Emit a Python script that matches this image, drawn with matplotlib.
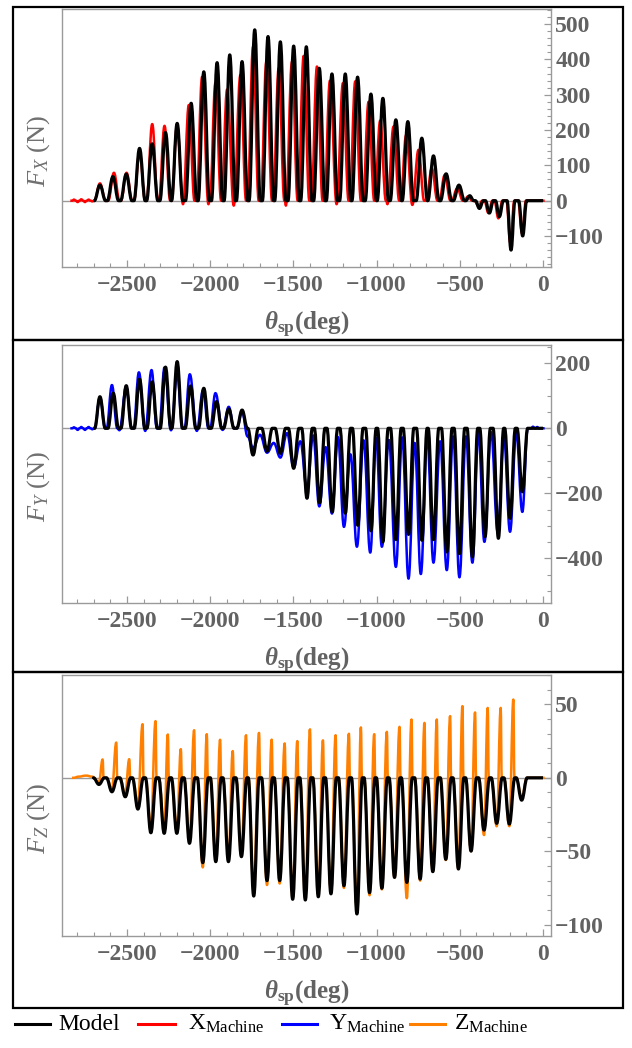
import numpy as np
import matplotlib
matplotlib.use("Agg")
import matplotlib.pyplot as plt
from matplotlib.ticker import MultipleLocator
from matplotlib.patches import Rectangle, PathPatch
from matplotlib.lines import Line2D
from matplotlib.path import Path

# ---------------- data ----------------
# Panel F_X : model peaks / machine peaks (deg, N)
fx_model_deg = [-2662, -2584, -2504, -2424, -2348, -2268, -2198, -2114, -2038, -1958,
                -1882, -1808, -1732, -1652, -1578, -1498, -1422, -1344, -1268, -1188,
                -1114, -1034, -962, -884, -812, -728, -658, -582, -505]
fx_model_val = [44, 68, 75, 148, 161, 193, 219, 276, 365, 391,
                413, 394, 484, 465, 450, 438, 436, 375, 359, 359,
                350, 302, 290, 229, 224, 177, 127, 76, 44]
fx_model_tail_deg = [-440, -382, -322, -262, -192, -122]
fx_model_tail_val = [14, -22, -35, -45, -140, -100]
fx_mach_deg = [-2662, -2578, -2502, -2424, -2348, -2274, -2198, -2128, -2048, -1968,
               -1898, -1818, -1742, -1662, -1588, -1508, -1438, -1358, -1280, -1202,
               -1128, -1048, -978, -898, -822, -748, -668, -590, -515]
fx_mach_val = [49, 79, 79, 140, 217, 212, 214, 271, 351, 334,
               315, 356, 436, 394, 375, 394, 410, 380, 340, 333,
               338, 280, 227, 210, 186, 144, 92, 73, 35]
fx_mach_tail_deg = [-450, -388, -328, -268, -196, -126]
fx_mach_tail_val = [12, -15, -35, -50, -120, -92]
fx_mach_dip_deg = [-2163, -2010, -1858, -1545, -1240, -935, -785]
fx_mach_dip_val = [-10, -10, -14, -14, -10, -10, -12]
fx_mach_noise_deg = [-2818, -2796, -2774, -2752, -2730, -2708]
fx_mach_noise_val = [3, -4, 4, -4, 3, -2]

# Panel F_Y
fy_model_deg = [-2662, -2582, -2504, -2424, -2348, -2268, -2198, -2118, -2038, -1962,
                -1888, -1808, -1742, -1658, -1578, -1498, -1418, -1342, -1266, -1188,
                -1113, -1034, -962, -884, -808, -728, -658, -578, -502, -424,
                -348, -268, -198, -124]
fy_model_val = [97, 108, 131, 151, 143, 188, 205, 130, 123, 82,
                59, 56, -82, -70, -77, -123, -215, -229, -257, -261,
                -298, -315, -349, -342, -326, -344, -342, -380, -385, -395,
                -333, -338, -277, -195]
fy_mach_deg = [-2662, -2590, -2504, -2428, -2352, -2274, -2198, -2122, -2042, -1968,
               -1888, -1808, -1742, -1658, -1578, -1498, -1418, -1344, -1268, -1196,
               -1118, -1038, -968, -884, -808, -734, -658, -578, -502, -424,
               -352, -272, -198, -124]
fy_mach_val = [94, 133, 128, 172, 179, 187, 165, 166, 118, 108,
               66, 51, -60, -75, -90, -120, -190, -240, -262, -303,
               -364, -382, -364, -426, -462, -448, -413, -436, -458, -413,
               -349, -318, -318, -257]
fy_mach_gap_deg = [-2545, -2390, -2235, -2080, -1925, -1775, -1700, -1618, -1538, -1458,
                   -1381, -1306, -1232, -1157, -1078, -1003, -926, -846, -771, -696,
                   -618, -540, -463, -388, -312, -235, -161]
fy_mach_gap_val = [-6, -8, -6, -8, -5, -25, -20, -45, -15, -40,
                   -22, -58, -27, -80, -37, -30, -36, -28, -45, -28,
                   -40, -25, -25, -15, -12, -25, -12]
fy_mach_noise_deg = [-2818, -2796, -2774, -2752, -2730, -2708, -60, -35]
fy_mach_noise_val = [3, -5, 4, -5, 4, -3, 5, 4]

# Panel F_Z
fz_model_deg = [-2668, -2590, -2510, -2434, -2356, -2276, -2200, -2124, -2044, -1966,
                -1890, -1812, -1738, -1658, -1582, -1504, -1428, -1350, -1274, -1196,
                -1118, -1042, -968, -892, -818, -738, -662, -584, -508, -432,
                -354, -278, -202, -128]
fz_model_val = [-4.5, -9.5, -12.9, -21.3, -37.4, -37.8, -37.8, -44.6, -57.8, -57.1,
                -57.1, -53.7, -80.5, -70, -70, -82.7, -83.2, -81, -79, -73.5,
                -92.7, -78.2, -75.2, -67.8, -71.2, -68.9, -63.9, -55.5, -62.1, -49.9,
                -35.6, -31, -31.5, -15.2]
fz_mach_dip_val = [-3, -8, -11, -18, -34, -35, -36, -43, -61, -57,
                   -56, -53, -79, -73, -72, -82, -82, -80, -78, -75,
                   -91, -80, -76, -68, -82, -70, -64, -56, -62, -50,
                   -39, -33, -33, -14]
fz_mach_spike_deg = [-2646, -2564, -2486, -2406, -2328, -2254, -2176, -2096, -2020, -1940,
                     -1864, -1784, -1706, -1630, -1552, -1476, -1400, -1322, -1246, -1166,
                     -1094, -1014, -938, -862, -790, -712, -638, -558, -484, -408,
                     -332, -254, -178]
fz_mach_spike_val = [12.5, 24, 12.7, 36.5, 38.6, 29.5, 19.5, 32.4, 29.7, 25.9,
                     18.2, 29, 30.6, 26, 23.4, 25, 33, 25.5, 29, 30,
                     34.3, 29.7, 31.3, 34.7, 39.7, 37.4, 39.7, 42, 48.8, 44.5,
                     47.6, 47.6, 53.3]
fz_mach_noise_deg = [-2790, -2745, -2710]
fz_mach_noise_val = [0.8, 1.5, 0.8]

x_ticks = [-2500, -2000, -1500, -1000, -500, 0]
fx_ticks = [-100, 0, 100, 200, 300, 400, 500]
fy_ticks = [-400, -200, 0, 200]
fz_ticks = [-100, -50, 0, 50]
legend_labels = ["Model", r"X$_{\mathrm{Machine}}$", r"Y$_{\mathrm{Machine}}$",
                 r"Z$_{\mathrm{Machine}}$"]

# ---------------- styling ----------------
plt.rcParams["font.family"] = ["Liberation Serif", "DejaVu Serif"]
plt.rcParams["mathtext.fontset"] = "custom"
plt.rcParams["mathtext.rm"] = "Liberation Serif"
plt.rcParams["mathtext.it"] = "Liberation Serif:italic"
plt.rcParams["mathtext.bf"] = "Liberation Serif:bold"
try:
    plt.rcParams["mathtext.bfit"] = "Liberation Serif:italic:bold"
except KeyError:
    pass

C_MODEL = "black"
C_X = "#ff0000"
C_Y = "#0000ff"
C_Z = "#ff8000"
GRAY = "#9a9a9a"
TICKC = "#626262"


def pulse_vertices(start, end, groups):
    cs, hs, ws = [], [], []
    for centers, heights, hw in groups:
        cs += list(centers)
        hs += list(heights)
        ws += [hw] * len(centers)
    order = np.argsort(cs)
    xs, ys = [start], [0.0]
    for i in order:
        c, h, w = cs[i], hs[i], ws[i]
        if len(xs) > 1 and c - w <= xs[-1]:
            xs.pop(); ys.pop()
        else:
            xs.append(c - w); ys.append(0.0)
        xs.append(c); ys.append(h)
        xs.append(c + w); ys.append(0.0)
    xs.append(end); ys.append(0.0)
    return xs, ys


def smooth_path(xs, ys, k=0.4):
    """Bezier path through the vertices with flat tangents at each vertex."""
    verts = [(xs[0], ys[0])]
    codes = [Path.MOVETO]
    for x0, y0, x1, y1 in zip(xs[:-1], ys[:-1], xs[1:], ys[1:]):
        dx = x1 - x0
        verts += [(x0 + k * dx, y0), (x1 - k * dx, y1), (x1, y1)]
        codes += [Path.CURVE4] * 3
    return Path(verts, codes)


def fmt(v):
    return str(v).replace("-", "\u2212")


fig = plt.figure(figsize=(6.32, 10.48), dpi=100)
fig.patch.set_facecolor("white")

panels = [
    dict(rect=[0.0981, 0.7452, 0.7737, 0.2462], ylim=(-188, 543), ticks=fx_ticks, minor=20,
         label=r"$F_X$ (N)"),
    dict(rect=[0.0981, 0.4246, 0.7737, 0.2462], ylim=(-537, 256), ticks=fy_ticks, minor=50,
         label=r"$F_Y$ (N)"),
    dict(rect=[0.0981, 0.1069, 0.7737, 0.2490], ylim=(-107.7, 70), ticks=fz_ticks, minor=10,
         label=r"$F_Z$ (N)"),
]

series = [
    (pulse_vertices(-2840, 10, [(fx_mach_deg, fx_mach_val, 34),
                                (fx_mach_tail_deg, fx_mach_tail_val, 24),
                                (fx_mach_dip_deg, fx_mach_dip_val, 6),
                                (fx_mach_noise_deg, fx_mach_noise_val, 10)]), C_X,
     pulse_vertices(-2700, 0, [(fx_model_deg, fx_model_val, 34),
                               (fx_model_tail_deg, fx_model_tail_val, 24)])),
    (pulse_vertices(-2840, 10, [(fy_mach_deg, fy_mach_val, 32),
                                (fy_mach_gap_deg, fy_mach_gap_val, 12),
                                (fy_mach_noise_deg, fy_mach_noise_val, 10)]), C_Y,
     pulse_vertices(-2700, 0, [(fy_model_deg, fy_model_val, 32)])),
    (pulse_vertices(-2830, 10, [(fz_model_deg, fz_mach_dip_val, 32),
                                (fz_mach_spike_deg, fz_mach_spike_val, 6),
                                (fz_mach_noise_deg, fz_mach_noise_val, 30)]), C_Z,
     pulse_vertices(-2700, 0, [(fz_model_deg, fz_model_val, 33)])),
]

for p, ((mx, my), mcol, (bx, by)) in zip(panels, series):
    ax = fig.add_axes(p["rect"])
    ax.set_facecolor("white")
    ax.axhline(0, color=GRAY, lw=1.0, zorder=1)
    ax.add_patch(PathPatch(smooth_path(mx, my), fill=False, edgecolor=mcol, lw=1.8,
                           zorder=2, joinstyle="round"))
    ax.add_patch(PathPatch(smooth_path(bx, by), fill=False, edgecolor=C_MODEL, lw=2.3,
                           zorder=3, joinstyle="round"))
    ax.set_xlim(-2890, 48)
    ax.set_ylim(*p["ylim"])
    for s in ax.spines.values():
        s.set_color(GRAY)
        s.set_linewidth(1.0)
    ax.yaxis.tick_right()
    ax.set_xticks(x_ticks, [fmt(v) for v in x_ticks], fontweight="bold")
    ax.set_yticks(p["ticks"], [fmt(v) for v in p["ticks"]], fontweight="bold")
    ax.xaxis.set_minor_locator(MultipleLocator(100))
    ax.yaxis.set_minor_locator(MultipleLocator(p["minor"]))
    ax.tick_params(axis="both", which="both", direction="in", color=GRAY,
                   labelcolor=TICKC, labelsize=17)
    ax.tick_params(axis="both", which="major", length=5, width=0.9)
    ax.tick_params(axis="both", which="minor", length=3, width=0.8)
    ax.tick_params(axis="x", pad=6)
    ax.tick_params(axis="y", pad=3)
    ax.set_xlabel(r"$\mathbfit{\theta}_{\mathbf{sp}}$(deg)", fontsize=18, color=TICKC,
                  fontweight="bold")
    ax.xaxis.set_label_coords(0.5, -0.165)
    ax.text(-0.047, 0.45, p["label"], transform=ax.transAxes, rotation=90,
            ha="center", va="center", fontsize=19, color="#707070")

# outer black frames around each panel
for (y0, h) in [(0.6756, 0.3177), (0.3588, 0.3168), (0.0382, 0.3206)]:
    fig.patches.append(Rectangle((0.0206, y0), 0.9652, h, transform=fig.transFigure,
                                 fill=False, edgecolor="black", lw=1.6, zorder=10))

# legend row along the bottom
W, H = 632.0, 1048.0
leg_y = 1 - 1024 / H
line_px = [(15, 50), (138, 175), (282, 317), (410, 445)]
text_px = [58, 188, 329, 454]
for (x0, x1), tx, col, lab in zip(line_px, text_px, (C_MODEL, C_X, C_Y, C_Z), legend_labels):
    fig.add_artist(Line2D([x0 / W, x1 / W], [leg_y, leg_y], transform=fig.transFigure,
                          color=col, lw=2.2))
    fig.text(tx / W, leg_y, lab, ha="left", va="center", fontsize=17, color="black")

fig.savefig("out.png", dpi=100, facecolor="white")
